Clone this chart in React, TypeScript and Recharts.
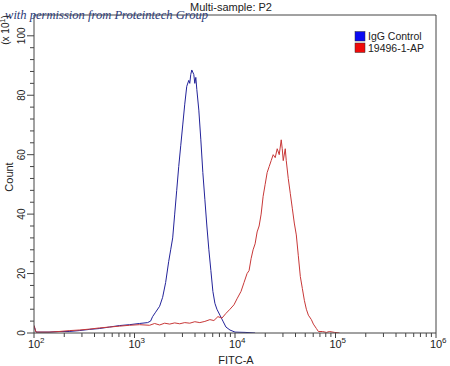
import React from 'react';
import { Line, LineChart, ReferenceLine, XAxis, YAxis } from 'recharts';

// FITC-A intensity as log10 exponent, count in units of 10 (axis shows x 10^1)
const iggLogFitc = [
    2.0, 2.02, 2.15, 2.25, 2.35, 2.45, 2.55, 2.65, 2.75, 2.85, 2.95, 3.05,
    3.13, 3.16, 3.18, 3.21, 3.25, 3.28, 3.31, 3.34, 3.36, 3.38, 3.4, 3.42,
    3.44, 3.46, 3.48, 3.5, 3.52, 3.54, 3.55, 3.56, 3.57, 3.59, 3.6, 3.61,
    3.62, 3.64, 3.66, 3.68, 3.7, 3.72, 3.74, 3.76, 3.78, 3.8, 3.82, 3.85,
    3.88, 3.91, 3.95, 4.0, 4.1, 4.2,
];
const iggCount = [
    2.5, 0.3, 0.3, 0.5, 0.5, 0.8, 1.2, 1.5, 2, 2.5, 2.8, 3.2,
    3.5, 4, 5.5, 7, 9, 12, 17, 24, 28, 32, 40, 48,
    56, 63, 70, 77, 83, 85, 84, 87, 88.5, 87, 84, 86,
    82, 75, 65, 54, 45, 36, 28, 21, 14, 10, 8, 6,
    4, 2, 1, 0.3, 0.2, 0,
];

const apLogFitc = [
    2.0, 2.02, 2.15, 2.25, 2.35, 2.45, 2.55, 2.65, 2.75, 2.85, 2.95, 3.05,
    3.15, 3.2, 3.25, 3.3, 3.35, 3.4, 3.45, 3.5, 3.55, 3.6, 3.65, 3.7,
    3.75, 3.79, 3.83, 3.87, 3.91, 3.95, 3.99, 4.02, 4.06, 4.09, 4.12, 4.14,
    4.16, 4.18, 4.2, 4.22, 4.24, 4.26, 4.28, 4.3, 4.32, 4.34, 4.36, 4.38,
    4.4, 4.42, 4.44, 4.46, 4.47, 4.48, 4.5, 4.51, 4.53, 4.55, 4.57, 4.59,
    4.61, 4.63, 4.65, 4.67, 4.69, 4.71, 4.73, 4.76, 4.78, 4.81, 4.83, 4.87,
    4.91, 4.94, 4.99, 5.04,
];
const apCount = [
    2.5, 0.3, 0.3, 0.5, 0.8, 1, 1.3, 1.7, 2, 2.3, 2.6, 2.8,
    2.6, 3.2, 2.7, 3.3, 3, 3.4, 3.1, 3.5, 3.3, 3.8, 3.5, 3.9,
    4.5, 4.2, 5.5, 5, 6.6, 8, 9.5, 11.5, 14, 17, 20, 21,
    25, 28, 30, 34, 36, 40, 46, 50, 54, 56, 58, 60,
    59, 62, 60, 65, 62, 58, 62, 58, 52, 47, 42, 37,
    33, 26, 19, 15, 11, 8, 6, 4.5, 3, 1.5, 0.5, 0.5,
    0.2, 0.5, 0.2, 0,
];

const seriesNames = ['IgG Control', '19496-1-AP'];
const lineColors = ['#23239a', '#c83838'];
const legendColors = ['#0a0af2', '#f00a0a'];

const decadeExponents = [2, 3, 4, 5, 6];
const decadeSteps = [1, 2, 3, 4, 5, 6, 7, 8, 9];
const countLabels = [0, 20, 40, 60, 80, 100];
const countTicks = Array.from({ length: 26 }, (_, i) => i * 4);

const iggData = iggLogFitc.map((x, i) => ({ x, count: iggCount[i] }));
const apData = apLogFitc.map((x, i) => ({ x, count: apCount[i] }));

const xTicks = decadeExponents.flatMap((n) =>
    n === 6 ? [6] : decadeSteps.map((k) => n + Math.log10(k)),
);

const FONT = '"Liberation Sans", Arial, sans-serif';
const AXIS = '#444';

function XTick({ x, y, payload }: any) {
    const v = payload.value;
    const major = decadeExponents.some((n) => Math.abs(n - v) < 1e-6);
    return (
        <g>
            <line x1={x} x2={x} y1={y} y2={y + (major ? 5 : 4)} stroke={AXIS} />
            {major && (
                <>
                    <text x={x} y={y + 15} textAnchor="middle" fontSize={11} fontFamily={FONT} fill="#222">
                        10
                    </text>
                    <text x={x + 6} y={y + 10} fontSize={8} fontFamily={FONT} fill="#222">
                        {Math.round(v)}
                    </text>
                </>
            )}
        </g>
    );
}

function YTick({ x, y, payload }: any) {
    const major = countLabels.includes(payload.value);
    return (
        <g>
            <line x1={x - (major ? 7 : 4)} x2={x} y1={y} y2={y} stroke={AXIS} />
            {major && (
                <text
                    x={x - 9}
                    y={y}
                    transform={`rotate(-90, ${x - 9}, ${y})`}
                    textAnchor="middle"
                    fontSize={10}
                    fontFamily={FONT}
                    fill="#222"
                >
                    {payload.value}
                </text>
            )}
        </g>
    );
}

export default function App() {
    return (
        <div style={{ position: 'absolute', left: 0, top: 0, width: 450, height: 366, background: '#fff' }}>
            <LineChart width={450} height={366} margin={{ top: 15, right: 14, left: 0, bottom: 0 }}>
                <XAxis
                    dataKey="x"
                    type="number"
                    domain={[2, 6]}
                    ticks={xTicks}
                    interval={0}
                    height={33}
                    tickSize={0}
                    tickMargin={0}
                    tickLine={false}
                    tick={<XTick />}
                    axisLine={{ stroke: AXIS }}
                    allowDataOverflow
                />
                <YAxis
                    type="number"
                    domain={[0, 107]}
                    ticks={countTicks}
                    interval={0}
                    width={34}
                    tickSize={0}
                    tickMargin={0}
                    tickLine={false}
                    tick={<YTick />}
                    axisLine={{ stroke: AXIS }}
                    allowDataOverflow
                />
                <ReferenceLine y={107} stroke={AXIS} />
                <ReferenceLine x={6} stroke={AXIS} />
                <Line
                    data={iggData}
                    dataKey="count"
                    name={seriesNames[0]}
                    type="linear"
                    stroke={lineColors[0]}
                    strokeWidth={1}
                    dot={false}
                    isAnimationActive={false}
                />
                <Line
                    data={apData}
                    dataKey="count"
                    name={seriesNames[1]}
                    type="linear"
                    stroke={lineColors[1]}
                    strokeWidth={1}
                    dot={false}
                    isAnimationActive={false}
                />
            </LineChart>
            <svg
                width={450}
                height={366}
                style={{ position: 'absolute', left: 0, top: 0, pointerEvents: 'none' }}
            >
                <text x={231} y={11} textAnchor="middle" fontSize={11} fontFamily={FONT} fill="#222">
                    Multi-sample: P2
                </text>
                <text
                    x={5}
                    y={19}
                    fontSize={12.5}
                    fontStyle="italic"
                    fontFamily='"Liberation Serif", serif'
                    fill="#2b3a78"
                    textLength={203}
                    lengthAdjust="spacingAndGlyphs"
                >
                    with permission from Proteintech Group
                </text>
                <text x={236} y={364} textAnchor="middle" fontSize={11} fontFamily={FONT} fill="#222">
                    FITC-A
                </text>
                <text
                    x={13}
                    y={177}
                    transform="rotate(-90, 13, 177)"
                    textAnchor="middle"
                    fontSize={11}
                    fontFamily={FONT}
                    fill="#222"
                >
                    Count
                </text>
                <text
                    x={9}
                    y={30}
                    transform="rotate(-90, 9, 30)"
                    textAnchor="middle"
                    fontSize={10}
                    fontFamily={FONT}
                    fill="#222"
                >
                    (x 10<tspan dy={-4} fontSize={7}>1</tspan><tspan dy={4}>)</tspan>
                </text>
                {seriesNames.map((name, i) => (
                    <g key={name}>
                        <rect
                            x={355}
                            y={31.5 + i * 11.5}
                            width={10}
                            height={9.5}
                            fill={legendColors[i]}
                            stroke="#333"
                            strokeWidth={0.5}
                        />
                        <text x={368} y={40 + i * 11.5} fontSize={10.5} fontFamily={FONT} fill="#222">
                            {name}
                        </text>
                    </g>
                ))}
            </svg>
        </div>
    );
}
